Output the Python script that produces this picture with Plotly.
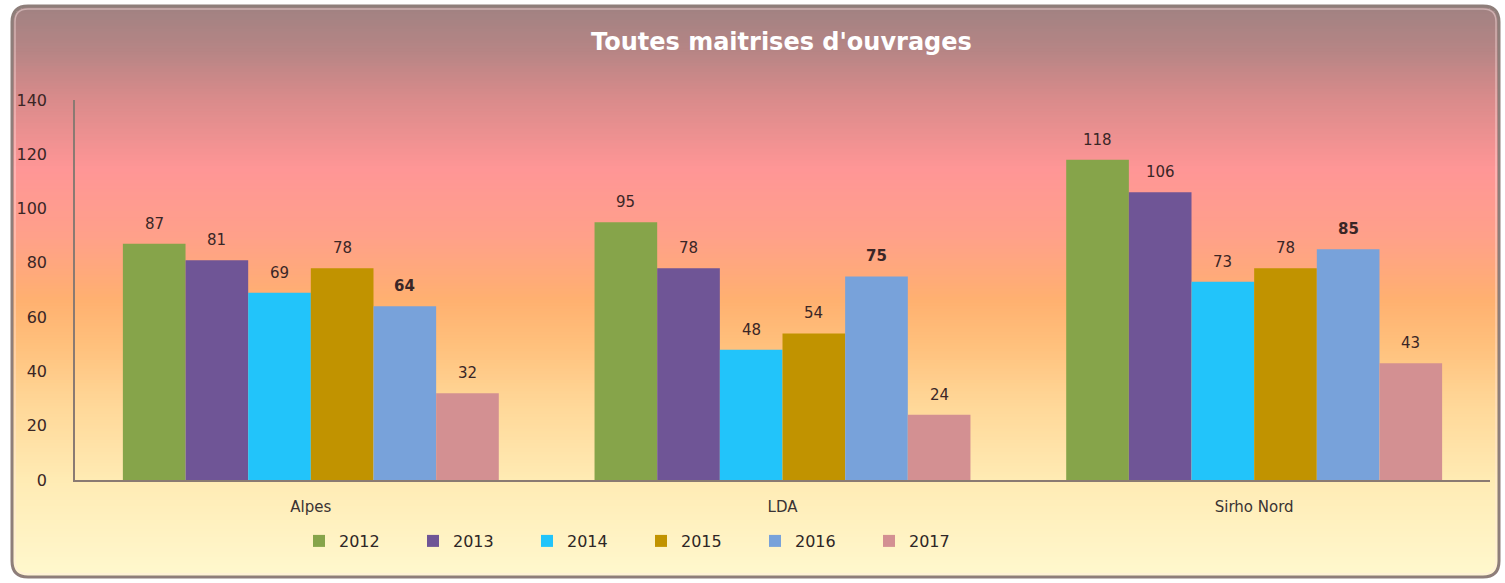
import plotly.graph_objects as go
import numpy as np

# ---------------- data ----------------
categories = ["Alpes", "LDA", "Sirho Nord"]
years = ["2012", "2013", "2014", "2015", "2016", "2017"]
v2012 = [87, 95, 118]
v2013 = [81, 78, 106]
v2014 = [69, 48, 73]
v2015 = [78, 54, 78]
v2016 = [64, 75, 85]
v2017 = [32, 24, 43]
series = [v2012, v2013, v2014, v2015, v2016, v2017]
colors = ["#86A44A", "#6F5596", "#22C4FA", "#C19300", "#78A2DA", "#D39092"]
bold_labels = [False, False, False, False, True, False]
y_ticks = [0, 20, 40, 60, 80, 100, 120, 140]
title = "Toutes maitrises d'ouvrages"

# ---------------- layout geometry (pixels) ----------------
W, H = 1505, 583
plot_l, plot_r, plot_t, plot_b = 75, 1490, 100, 480
bargap = 0.203

def px(x):
    return x / W

def py(y):
    return 1 - y / H

fig = go.Figure()
for name, vals, col in zip(years, series, colors):
    fig.add_trace(go.Bar(x=categories, y=vals, name=name, marker_color=col,
                         marker_line_width=0))

# value labels
cat_w = (plot_r - plot_l) / len(categories)
bar_w = cat_w * (1 - bargap) / len(years)
annotations = []
for i, (name, vals, b) in enumerate(zip(years, series, bold_labels)):
    for c, v in zip(categories, vals):
        annotations.append(dict(
            x=c, y=v, xref="x", yref="y",
            text=("<b>%d</b>" % v) if b else str(v), showarrow=False,
            xshift=(i - (len(years) - 1) / 2) * bar_w, yshift=20,
            font=dict(family="DejaVu Sans", size=15, color="#3a2626"),
            xanchor="center", yanchor="middle"))
annotations.append(dict(
    x=px(781), y=py(42), xref="paper", yref="paper", text="<b>%s</b>" % title,
    showarrow=False, font=dict(family="DejaVu Sans", size=24, color="#ffffff"),
    xanchor="center", yanchor="middle"))

# ---------------- gradient background ----------------
stops = [(6, "#A08282"), (50, "#B68585"), (100, "#DA8B8B"), (170, "#FF9696"),
         (235, "#FFA08A"), (300, "#FFB070"), (345, "#FFC07C"), (400, "#FFD696"),
         (480, "#FFEBB4"), (577, "#FFF8CE")]

def hex2rgb(h):
    h = h.lstrip("#")
    return np.array([int(h[i:i + 2], 16) for i in (0, 2, 4)], dtype=float)

sy = np.array([s[0] for s in stops], dtype=float)
sc = np.array([hex2rgb(s[1]) for s in stops])

fx0, fx1, fy0, fy1, rad = 12, 1499, 6, 577, 16
shapes = []
N = 200
edges = np.linspace(fy0, fy1, N + 1)
for k in range(N):
    y0, y1 = edges[k], edges[k + 1]
    ym = (y0 + y1) / 2
    rgb = [np.interp(ym, sy, sc[:, j]) for j in range(3)]
    col = "rgb(%d,%d,%d)" % tuple(int(round(c)) for c in rgb)
    d = min(ym - fy0, fy1 - ym)
    inset = 0.0
    if d < rad:
        inset = rad - np.sqrt(max(rad ** 2 - (rad - d) ** 2, 0))
    shapes.append(dict(type="rect", xref="paper", yref="paper", layer="below",
                       x0=px(fx0 + inset), x1=px(fx1 - inset),
                       y0=py(y1 + 0.8), y1=py(y0),
                       fillcolor=col, line=dict(width=0)))

def rounded_path(x0, y0, x1, y1, r):
    X0, X1 = px(x0), px(x1)
    Y0, Y1 = py(y0), py(y1)
    rx, ry = r / W, r / H
    return (f"M {X0 + rx},{Y0} L {X1 - rx},{Y0} Q {X1},{Y0} {X1},{Y0 - ry} "
            f"L {X1},{Y1 + ry} Q {X1},{Y1} {X1 - rx},{Y1} L {X0 + rx},{Y1} "
            f"Q {X0},{Y1} {X0},{Y1 + ry} L {X0},{Y0 - ry} Q {X0},{Y0} {X0 + rx},{Y0} Z")

shapes.append(dict(type="path", xref="paper", yref="paper", layer="above",
                   path=rounded_path(fx0, fy0, fx1, fy1, rad),
                   line=dict(color="#8E7E7A", width=3)))
shapes.append(dict(type="path", xref="paper", yref="paper", layer="above",
                   path=rounded_path(fx0 + 3, fy0 + 3, fx1 - 3, fy1 - 3, rad - 3),
                   line=dict(color="rgba(255,230,230,0.45)", width=1.5)))

fig.update_layout(
    width=W, height=H,
    margin=dict(l=0, r=0, t=0, b=0),
    paper_bgcolor="white", plot_bgcolor="rgba(0,0,0,0)",
    barmode="group", bargap=bargap, bargroupgap=0,
    showlegend=True,
    legend=dict(orientation="h", x=px(299), xanchor="left", y=py(541), yanchor="middle",
                font=dict(family="DejaVu Sans", size=16, color="#2e2626"),
                bgcolor="rgba(0,0,0,0)", entrywidth=69, entrywidthmode="pixels",
                itemclick=False),
    xaxis=dict(domain=[px(plot_l), px(plot_r)], automargin=False, showgrid=False,
               showline=True, linecolor="#8A7A72", linewidth=1.5, ticks="",
               tickfont=dict(family="DejaVu Sans", size=15, color="#3a3333"),
               ticklabelstandoff=12),
    yaxis=dict(domain=[py(plot_b), py(plot_t)], automargin=False, range=[0, 140],
               tickvals=y_ticks, showgrid=False, zeroline=False,
               showline=True, linecolor="#8A7A72", linewidth=1.5, ticks="",
               tickfont=dict(family="DejaVu Sans", size=16, color="#3a2626"),
               ticklabelstandoff=23),
    annotations=annotations,
    shapes=shapes,
)

fig.write_html("out.html")
